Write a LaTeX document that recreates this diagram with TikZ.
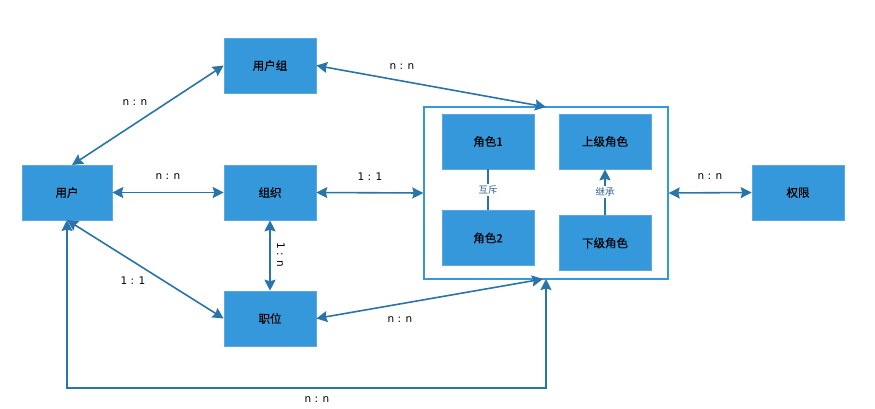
\documentclass[tikz,border=0pt]{standalone}
\usepackage{fontspec}
\setmainfont{Noto Sans CJK SC}
\newfontfamily\cjkb[FakeBold=0.3]{Noto Sans CJK SC}
\newfontfamily\lblfont{DejaVu Sans}
\usetikzlibrary{arrows.meta,calc}
\definecolor{boxblue}{RGB}{52,152,219}
\definecolor{boxedge}{RGB}{90,170,225}
\definecolor{lineblue}{RGB}{41,116,170}
\definecolor{subtext}{RGB}{50,100,145}
\tikzset{
  tip/.tip={Stealth[length=11pt,width=11pt,inset=1.5pt]},
  ent/.style={draw=boxedge, line width=0.6pt, fill=boxblue, minimum width=92pt, minimum height=55pt, inner sep=0pt, font=\cjkb\fontsize{11.5}{13}\selectfont, text=black},
  grp/.style={draw=boxblue, line width=1.4pt, fill=none, minimum width=244pt, minimum height=172pt, inner sep=0pt},
  conn/.style={draw=lineblue, line width=1.6pt, tip-tip},
  oneway/.style={draw=lineblue, line width=1.6pt, -tip},
  plain/.style={draw=lineblue, line width=1.6pt},
  lbl/.style={font=\lblfont\fontsize{10.5}{12}\selectfont, text=black, inner sep=1pt},
  sublbl/.style={font=\fontsize{9.5}{11}\selectfont, text=subtext, fill=white, inner sep=1.5pt}
}
\begin{document}
\begin{tikzpicture}[x=1pt,y=-1pt]
\useasboundingbox (0,0) rectangle (875,408);
% container
\node[grp] (cont) at (546,193) {};
% nodes
\node[ent, minimum width=90pt] (user) at (67,192.5) {用户};
\node[ent] (group) at (270,65.5) {用户组};
\node[ent] (org) at (270,192.5) {组织};
\node[ent] (pos) at (270,318.5) {职位};
\node[ent] (r1) at (488,141.5) {角色1};
\node[ent] (sup) at (605,141.5) {上级角色};
\node[ent] (r2) at (488,238) {角色2};
\node[ent] (sub) at (605,243) {下级角色};
\node[ent] (perm) at (798,192.5) {权限};
% anchor coordinates
\coordinate (ctop) at (546,107);
\coordinate (cbot) at (546,279);
\coordinate (cbotl) at (543,279);
\coordinate (utop) at (72,165);
\coordinate (ubot) at (67,220);
\coordinate (ubl) at (67,388);
\coordinate (ubr) at (546,388);
% connectors
\draw[conn] (utop) -- (group.west);
\node[lbl] (l1) at (135,103) {n : n};
\draw[conn] (group.east) -- (ctop);
\node[lbl] (l2) at (402,67) {n : n};
\draw[conn] (user.east) -- (org.west);
\node[lbl] (l3) at (168,177) {n : n};
\draw[conn] (org.east) -- (cont.west);
\node[lbl] (l4) at (370,177) {1 : 1};
\draw[conn] (org.south) -- (pos.north);
\node[lbl, rotate=-90] (l5) at (281,255) {1 : n};
\draw[conn] (ubot) -- (pos.west);
\node[lbl] (l6) at (133,281) {1 : 1};
\draw[conn] (pos.east) -- (cbotl);
\node[lbl] (l7) at (400,320) {n : n};
\draw[conn] (ubot) -- (ubl) -- (ubr) -- (cbot);
\node[lbl] (l8) at (317,400) {n : n};
\draw[conn] (cont.east) -- (perm.west);
\node[lbl] (l9) at (710,177) {n : n};
\draw[plain] (r1.south) -- node[sublbl] (mx) {互斥} (r2.north);
\draw[oneway] (sub.north) -- node[sublbl] (jc) {继承} (sup.south);
\end{tikzpicture}
\end{document}
